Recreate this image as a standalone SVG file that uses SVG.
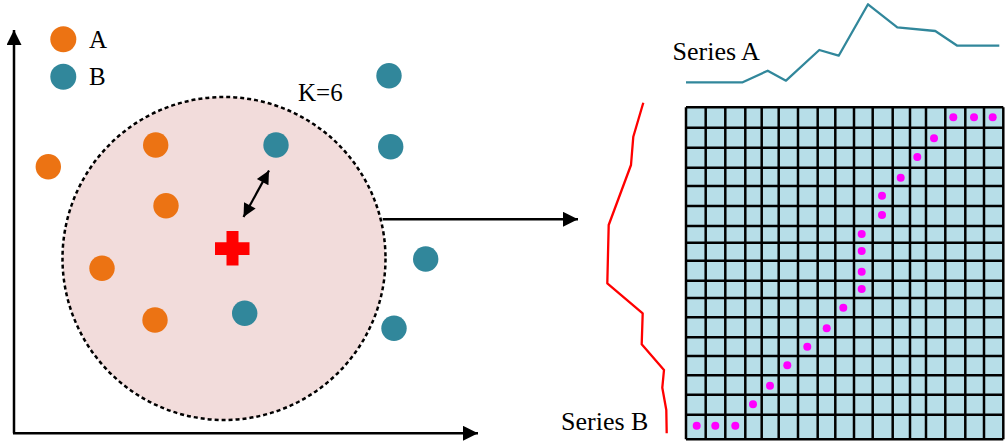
<svg xmlns="http://www.w3.org/2000/svg" width="1008" height="445" viewBox="0 0 1008 445">
<defs>
<style>
text{font-family:"Liberation Serif","Times New Roman","DejaVu Serif",serif;font-size:25px;fill:#000}
.big{font-size:26px}
.ptA{fill:#ec7313}
.ptB{fill:#31879b}
.axis{stroke:#000;stroke-width:2.5;fill:none}
.grid{stroke:#000;stroke-width:2.5;fill:none}
.dot{fill:#ff00ff}
</style>
<marker id="ah" viewBox="0 0 10 10" refX="10" refY="5" markerWidth="8.5" markerHeight="6" markerUnits="strokeWidth" orient="auto-start-reverse">
<path d="M0,0 L10,5 L0,10 z" fill="#000"/>
</marker>
<marker id="ah2" viewBox="0 0 10 10" refX="10" refY="5" markerWidth="7.5" markerHeight="6" markerUnits="strokeWidth" orient="auto-start-reverse">
<path d="M0,0 L10,5 L0,10 z" fill="#000"/>
</marker>
</defs>
<rect width="1008" height="445" fill="#fff"/>

<g id="axes">
<path class="axis" d="M14,433.3 L14,30" marker-end="url(#ah)"/>
<path class="axis" d="M13,433.3 L478,433.3" marker-end="url(#ah)"/>
</g>

<g id="legend">
<circle class="ptA" cx="63.3" cy="39.3" r="13"/>
<circle class="ptB" cx="63.3" cy="76.7" r="13"/>
<text x="89" y="48">A</text>
<text x="89" y="85">B</text>
</g>

<g id="neighborhood">
<circle cx="224" cy="258.5" r="161.5" fill="#f2dcdb" stroke="#000" stroke-width="2.5" stroke-dasharray="4,3"/>
<text x="298" y="101">K=6</text>
</g>

<g id="points-A">
<circle class="ptA" cx="48.3" cy="166.7" r="12.7"/>
<circle class="ptA" cx="155.7" cy="145" r="12.7"/>
<circle class="ptA" cx="166" cy="205.7" r="12.7"/>
<circle class="ptA" cx="102" cy="268.3" r="12.7"/>
<circle class="ptA" cx="155" cy="320" r="12.7"/>
</g>

<g id="points-B">
<circle class="ptB" cx="389" cy="75.7" r="12.7"/>
<circle class="ptB" cx="276" cy="145" r="12.7"/>
<circle class="ptB" cx="390.7" cy="146.7" r="12.7"/>
<circle class="ptB" cx="425.7" cy="259" r="12.7"/>
<circle class="ptB" cx="244.7" cy="313.3" r="12.7"/>
<circle class="ptB" cx="394" cy="328.3" r="12.7"/>
</g>

<g id="query">
<path d="M226.5,231 h12 v11.3 h11 v12.7 h-11 v10.5 h-12 v-10.5 h-11.5 v-12.7 h11.5 z" fill="#ff0000"/>
</g>

<g id="connectors">
<path d="M243.5,217 L269,170.5" stroke="#000" stroke-width="2.2" fill="none" marker-start="url(#ah2)" marker-end="url(#ah2)"/>
<path d="M382.7,219.3 L578,219.3" stroke="#000" stroke-width="2.5" fill="none" marker-end="url(#ah)"/>
</g>

<g id="series-A">
<polyline points="686,82.3 742.7,82.3 767.7,70.7 786,80.7 819.3,50 838.7,55.7 868,4.3 897.3,27.3 935.3,31 957.3,45.7 999.3,45.7" fill="none" stroke="#31879b" stroke-width="2.3" stroke-linejoin="round"/>
<text class="big" x="672.5" y="60">Series A</text>
</g>

<g id="series-B">
<polyline points="643.3,102.7 633.3,136.7 631,165 608.7,225 607.3,283.3 642.7,313.3 641.7,344.3 664,370 662.3,387.7 666.3,410 666.7,433.3" fill="none" stroke="#ff0000" stroke-width="2.3" stroke-linejoin="round"/>
<text class="big" x="561" y="430">Series B</text>
</g>

<g id="matrix">
<rect x="686" y="107.3" width="317.3" height="332" fill="#b7dee8"/>
<path class="grid" d="M686,107.3 V439.3 M705.7,107.3 V439.3 M725.3,107.3 V439.3 M745.3,107.3 V439.3 M761.7,107.3 V439.3 M778.7,107.3 V439.3 M798,107.3 V439.3 M817.7,107.3 V439.3 M835.3,107.3 V439.3 M854,107.3 V439.3 M872.7,107.3 V439.3 M892.7,107.3 V439.3 M910,107.3 V439.3 M926,107.3 V439.3 M945.3,107.3 V439.3 M965.3,107.3 V439.3 M984,107.3 V439.3 M1003.3,107.3 V439.3"/>
<path class="grid" d="M686,107.3 H1003.3 M686,127.7 H1003.3 M686,147.7 H1003.3 M686,167.7 H1003.3 M686,186 H1003.3 M686,206 H1003.3 M686,226 H1003.3 M686,242.7 H1003.3 M686,260.7 H1003.3 M686,280.7 H1003.3 M686,298 H1003.3 M686,317.3 H1003.3 M686,337.3 H1003.3 M686,356 H1003.3 M686,375.3 H1003.3 M686,394.7 H1003.3 M686,414.7 H1003.3 M686,439.3 H1003.3"/>
<g>
<circle class="dot" cx="953.3" cy="117.3" r="4"/>
<circle class="dot" cx="974" cy="117.3" r="4"/>
<circle class="dot" cx="992.7" cy="117.3" r="4"/>
<circle class="dot" cx="934" cy="138.3" r="4"/>
<circle class="dot" cx="917.3" cy="157" r="4"/>
<circle class="dot" cx="900.7" cy="177.7" r="4"/>
<circle class="dot" cx="882" cy="195.7" r="4"/>
<circle class="dot" cx="882" cy="215" r="4"/>
<circle class="dot" cx="861.7" cy="234" r="4"/>
<circle class="dot" cx="861.7" cy="251" r="4"/>
<circle class="dot" cx="861.7" cy="271.7" r="4"/>
<circle class="dot" cx="861.7" cy="289" r="4"/>
<circle class="dot" cx="843.3" cy="307.7" r="4"/>
<circle class="dot" cx="826.7" cy="328.3" r="4"/>
<circle class="dot" cx="807.3" cy="346.7" r="4"/>
<circle class="dot" cx="787.3" cy="365.3" r="4"/>
<circle class="dot" cx="770" cy="385.7" r="4"/>
<circle class="dot" cx="753" cy="404.3" r="4"/>
<circle class="dot" cx="696.7" cy="425.7" r="4"/>
<circle class="dot" cx="715.3" cy="425.7" r="4"/>
<circle class="dot" cx="735.3" cy="425.7" r="4"/>
</g>
</g>
</svg>
